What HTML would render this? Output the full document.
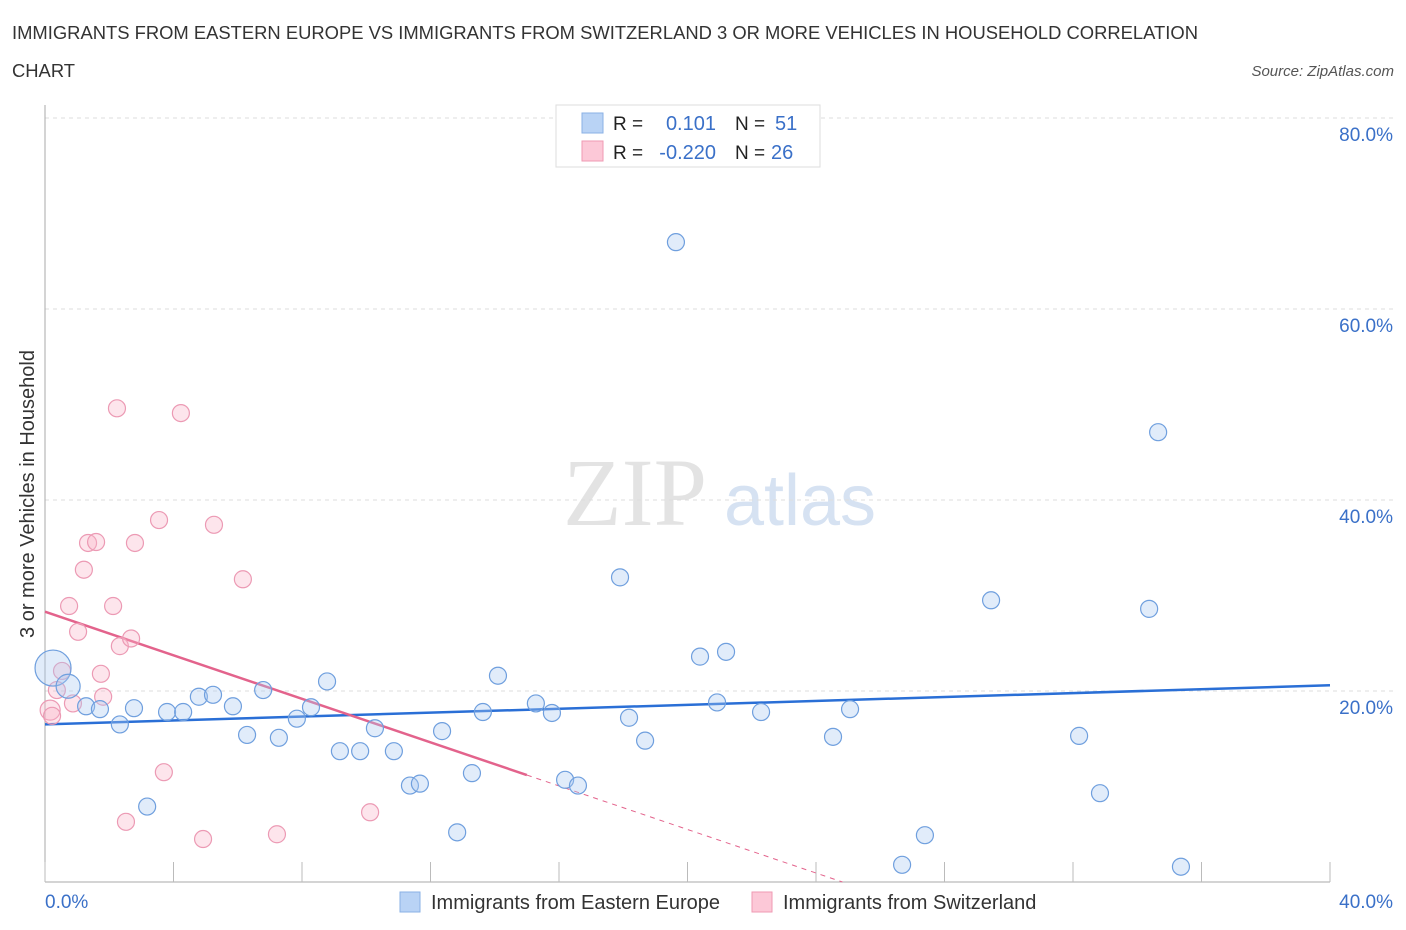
<!DOCTYPE html>
<html><head><meta charset="utf-8"><style>
body{margin:0;background:#fff;font-family:"Liberation Sans",sans-serif;}
svg{display:block}
</style></head><body>
<svg id="chart" width="1406" height="930" xmlns="http://www.w3.org/2000/svg" font-family="Liberation Sans, sans-serif">
<text x="12" y="39" font-size="18.4" fill="#333">IMMIGRANTS FROM EASTERN EUROPE VS IMMIGRANTS FROM SWITZERLAND 3 OR MORE VEHICLES IN HOUSEHOLD CORRELATION</text>
<text x="12" y="77" font-size="18.4" fill="#333">CHART</text>
<text x="1394" y="76" font-size="15" fill="#555" font-style="italic" text-anchor="end">Source: ZipAtlas.com</text>
<g opacity="0.4">
<text x="635" y="525" font-size="96" font-family="Liberation Serif, serif" fill="#bbb" text-anchor="middle">ZIP</text>
<text x="800" y="525" font-size="72" fill="#9ab8e0" text-anchor="middle">atlas</text>
</g>
<g id="grid"></g>
<g id="axes"></g>
<g id="trends"></g>
<g id="points"></g>
<text transform="translate(34,494) rotate(-90)" font-size="20" fill="#333" text-anchor="middle">3 or more Vehicles in Household</text>
<g>
<rect x="556" y="105" width="264" height="62" fill="#fff" stroke="#ddd"/>
<rect x="582" y="113" width="21" height="20" fill="#b9d3f5" stroke="#8ab0e5"/>
<rect x="582" y="141" width="21" height="20" fill="#fcc8d7" stroke="#ef9ab3"/>
<text x="613" y="130" font-size="19" fill="#222">R =</text>
<text x="716" y="130" font-size="20" fill="#3a70c8" text-anchor="end">0.101</text>
<text x="735" y="130" font-size="19" fill="#222">N =</text>
<text x="775" y="130" font-size="20" fill="#3a70c8">51</text>
<text x="613" y="159" font-size="19" fill="#222">R =</text>
<text x="716" y="159" font-size="20" fill="#3a70c8" text-anchor="end">-0.220</text>
<text x="735" y="159" font-size="19" fill="#222">N =</text>
<text x="771" y="159" font-size="20" fill="#3a70c8">26</text>
</g>
<g>
<rect x="400" y="892" width="20" height="20" fill="#b9d3f5" stroke="#8ab0e5"/>
<text x="431" y="909" font-size="20" fill="#333">Immigrants from Eastern Europe</text>
<rect x="752" y="892" width="20" height="20" fill="#fcc8d7" stroke="#ef9ab3"/>
<text x="783" y="909" font-size="20" fill="#333">Immigrants from Switzerland</text>
</g>
</svg>
<script>
const blueX=[0.25,0.72,1.28,1.71,2.33,2.77,3.18,3.80,4.30,4.79,5.23,5.85,6.29,6.79,7.28,7.84,8.28,8.78,9.18,9.81,10.27,10.86,11.36,11.67,12.36,12.83,13.29,13.63,14.10,15.28,15.78,16.19,16.59,17.90,18.18,18.68,19.64,20.39,20.92,21.20,22.29,24.53,25.06,26.68,27.39,29.45,32.19,32.84,34.37,34.65,35.36];
const blueY=[22.4,20.5,18.4,18.1,16.5,18.2,7.9,17.8,17.8,19.4,19.6,18.4,15.4,20.1,15.1,17.1,18.3,21.0,13.7,13.7,16.1,13.7,10.1,10.3,15.8,5.2,11.4,17.8,21.6,18.7,17.7,10.7,10.1,31.9,17.2,14.8,67.0,23.6,18.8,24.1,17.8,15.2,18.1,1.8,4.9,29.5,15.3,9.3,28.6,47.1,1.6];
const pinkX=[0.16,0.22,0.53,0.87,0.75,1.03,1.21,1.34,1.59,1.74,1.81,2.12,2.24,2.33,2.52,2.68,2.80,3.55,3.70,4.23,4.92,5.26,6.16,7.22,10.12,0.37];
const pinkY=[18.0,17.4,22.1,18.7,28.9,26.2,32.7,35.5,35.6,21.8,19.4,28.9,49.6,24.7,6.3,25.5,35.5,37.9,11.5,49.1,4.5,37.4,31.7,5.0,7.3,20.1];
const yTicks=[20,40,60,80];
const yTickLabels=["20.0%","40.0%","60.0%","80.0%"];
const xTickLabels=["0.0%","40.0%"];
const blueTrend=[16.5,20.6];
const pinkTrend=[28.3,11.2];
const pinkSolidEnd=15;
const NS="http://www.w3.org/2000/svg";
const X=v=>45+v*1285/40, Y=v=>882-v*191/20;
function mk(t,a,p){const e=document.createElementNS(NS,t);for(const k in a)e.setAttribute(k,a[k]);p.appendChild(e);return e;}
const grid=document.getElementById('grid'),axes=document.getElementById('axes');
yTicks.forEach((t,i)=>{
 const l=mk('line',{x1:45,x2:1395,y1:Y(t),y2:Y(t),stroke:'#ddd','stroke-dasharray':'4,4'},grid);
 
 const tx=mk('text',{x:1393,y:Y(t)+23,'font-size':19,fill:'#3a70c8','text-anchor':'end'},axes);
 tx.textContent=yTickLabels[i];
 
});
let a=mk('line',{x1:45,x2:45,y1:105,y2:882,stroke:'#aaa'},axes);
a=mk('line',{x1:45,x2:1330,y1:882,y2:882,stroke:'#aaa'},axes);
for(let i=0;i<=10;i++){const t=mk('line',{x1:X(i*4),x2:X(i*4),y1:862,y2:882,stroke:'#bbb'},axes);}
let xl=mk('text',{x:45,y:908,'font-size':19,fill:'#3a70c8'},axes);xl.textContent=xTickLabels[0];
xl=mk('text',{x:1393,y:908,'font-size':19,fill:'#3a70c8','text-anchor':'end'},axes);xl.textContent=xTickLabels[1];
const pts=document.getElementById('points');
pinkX.forEach((x,i)=>{const c=mk('circle',{cx:X(x),cy:Y(pinkY[i]),r:i==0?10:8.5,fill:'rgba(248,180,200,0.35)',stroke:'#ec9ab4','stroke-width':1.2},pts);
 });
blueX.forEach((x,i)=>{const c=mk('circle',{cx:X(x),cy:Y(blueY[i]),r:i==0?18:(i==1?12:8.5),fill:'rgba(170,200,240,0.35)',stroke:'#6f9fde','stroke-width':1.2},pts);
 });
const tr=document.getElementById('trends');
const ps=(pinkTrend[1]-pinkTrend[0])/pinkSolidEnd;
let ln=mk('line',{x1:X(0),y1:Y(blueTrend[0]),x2:X(40),y2:Y(blueTrend[1]),stroke:'#2a6fd6','stroke-width':2.5},tr);

ln=mk('line',{x1:X(0),y1:Y(pinkTrend[0]),x2:X(pinkSolidEnd),y2:Y(pinkTrend[1]),stroke:'#e3638c','stroke-width':2.5},tr);

const xe=-pinkTrend[0]/ps;
ln=mk('line',{x1:X(pinkSolidEnd),y1:Y(pinkTrend[1]),x2:X(xe),y2:Y(0),stroke:'#e3638c','stroke-width':1,'stroke-dasharray':'5,5'},tr);

</script>
</body></html>
